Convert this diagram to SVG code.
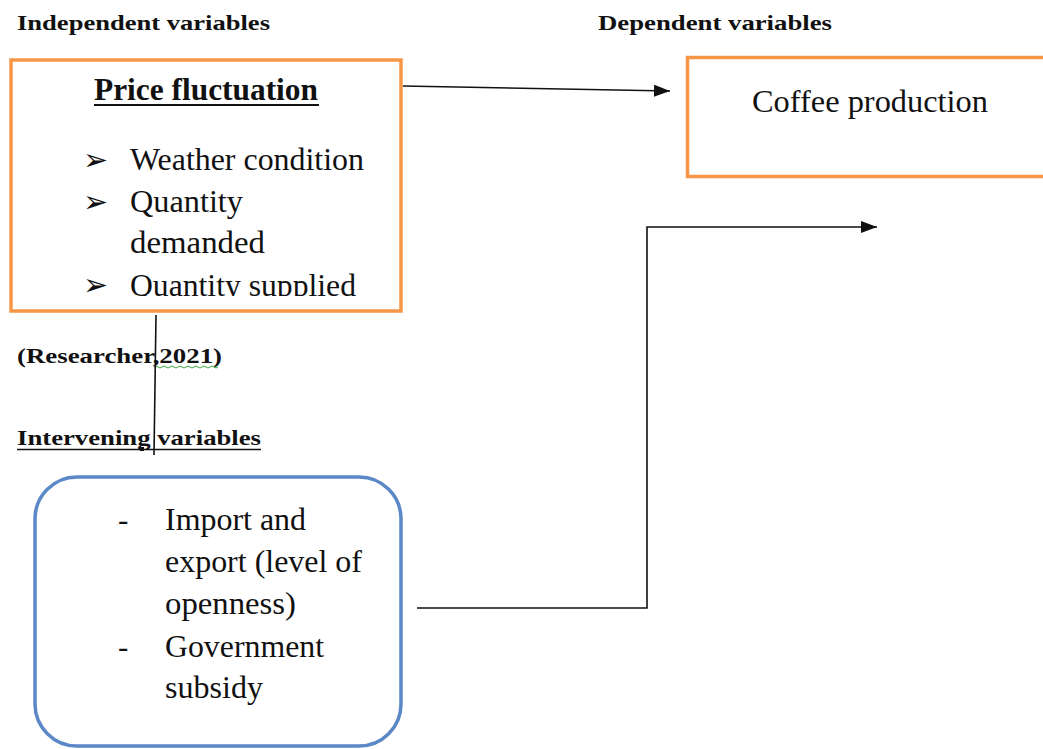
<svg xmlns="http://www.w3.org/2000/svg" width="1043" height="749" viewBox="0 0 1043 749">
<style>
.hdr{font-family:"Liberation Serif","Times New Roman",serif;font-weight:bold;font-size:22px;fill:#111}
.body{font-family:"Liberation Serif","Times New Roman",serif;font-size:31px;fill:#111}
.title{font-family:"Liberation Serif","Times New Roman",serif;font-weight:bold;font-size:31px;fill:#111}
.bul{font-family:"DejaVu Sans",sans-serif;font-size:30px;fill:#111}
.orange{fill:#fff;stroke:#f79646;stroke-width:3.5}
.blue{fill:#fff;stroke:#5b88c6;stroke-width:3.5}
.conn{fill:none;stroke:#111;stroke-width:1.6}
</style>
<defs>
<marker id="arr" markerWidth="16" markerHeight="12" refX="16" refY="6" orient="auto" markerUnits="userSpaceOnUse">
<path d="M0,0 L16,6 L0,12 Z" fill="#111"/>
</marker>
<clipPath id="clip1"><rect x="13" y="62" width="386" height="234"/></clipPath>
</defs>
<rect width="1043" height="749" fill="#fff"/>

<text class="hdr" x="17" y="30" textLength="253" lengthAdjust="spacingAndGlyphs">Independent variables</text>
<text class="hdr" x="598" y="30" textLength="234" lengthAdjust="spacingAndGlyphs">Dependent variables</text>

<g id="node-price">
<rect class="orange" x="11" y="60" width="390" height="251"/>
<g clip-path="url(#clip1)">
<text class="title" x="94" y="100" textLength="224" lengthAdjust="spacingAndGlyphs">Price fluctuation</text>
<line x1="94" y1="105" x2="319" y2="105" stroke="#111" stroke-width="2"/>
<text class="bul" x="83" y="170">➢</text>
<text class="body" x="130" y="170" textLength="234" lengthAdjust="spacingAndGlyphs">Weather condition</text>
<text class="bul" x="83" y="212">➢</text>
<text class="body" x="130" y="212" textLength="113" lengthAdjust="spacingAndGlyphs">Quantity</text>
<text class="body" x="130" y="253" textLength="135" lengthAdjust="spacingAndGlyphs">demanded</text>
<text class="bul" x="83" y="295">➢</text>
<text class="body" x="130" y="296" textLength="226" lengthAdjust="spacingAndGlyphs">Quantity supplied</text>
</g>
</g>

<g id="node-coffee">
<rect class="orange" x="687.5" y="57.5" width="400" height="119"/>
<text class="body" x="752" y="112" textLength="236" lengthAdjust="spacingAndGlyphs">Coffee production</text>
</g>

<text class="hdr" x="17" y="363" textLength="205" lengthAdjust="spacingAndGlyphs">(Researcher,2021)</text>
<path d="M154,367 q2,-2 4,0 t4,0 t4,0 t4,0 t4,0 t4,0 t4,0 t4,0 t4,0 t4,0 t4,0 t4,0 t4,0 t4,0 t4,0 t4,0" fill="none" stroke="#3aa83a" stroke-width="1"/>

<text class="hdr" x="17" y="445" textLength="244" lengthAdjust="spacingAndGlyphs">Intervening variables</text>
<line x1="17" y1="449.5" x2="261" y2="449.5" stroke="#111" stroke-width="1.5"/>
<rect x="140" y="447" width="4" height="4" fill="#111"/>

<g id="node-intervening">
<rect class="blue" x="35" y="477" width="366" height="269" rx="42" ry="42"/>
<text class="body" x="118" y="530">-</text>
<text class="body" x="165" y="530" textLength="141" lengthAdjust="spacingAndGlyphs">Import and</text>
<text class="body" x="165" y="572" textLength="197" lengthAdjust="spacingAndGlyphs">export (level of</text>
<text class="body" x="165" y="614" textLength="131" lengthAdjust="spacingAndGlyphs">openness)</text>
<text class="body" x="118" y="657">-</text>
<text class="body" x="165" y="657" textLength="159" lengthAdjust="spacingAndGlyphs">Government</text>
<text class="body" x="165" y="698" textLength="98" lengthAdjust="spacingAndGlyphs">subsidy</text>
</g>

<g id="connectors">
<path class="conn" d="M403,86 L670,91" marker-end="url(#arr)"/>
<path class="conn" d="M417,608 L647,608 L647,227 L877,227" marker-end="url(#arr)"/>
<path class="conn" d="M156,315 L154,455"/>
</g>
</svg>
